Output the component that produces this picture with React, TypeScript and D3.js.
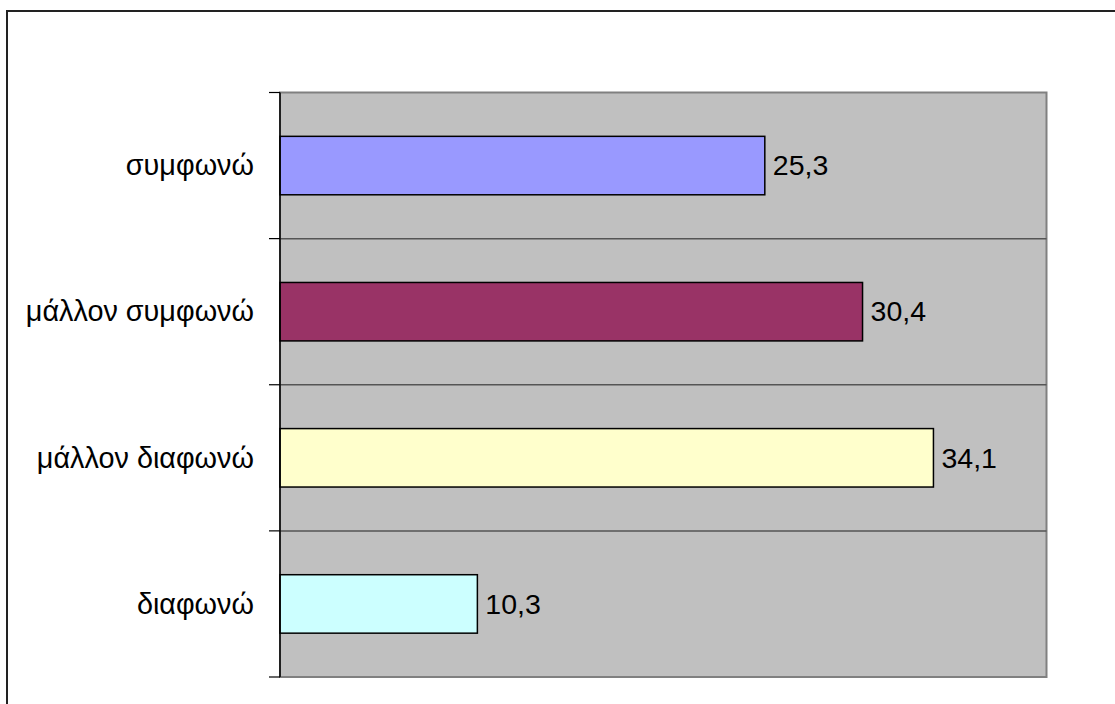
import React from "react";
import * as d3 from "d3";

const categories = ["συμφωνώ", "μάλλον συμφωνώ", "μάλλον διαφωνώ", "διαφωνώ"];
const values = [25.3, 30.4, 34.1, 10.3];
const valueLabels = ["25,3", "30,4", "34,1", "10,3"];
const barColors = ["#9999FF", "#993366", "#FFFFCC", "#CCFFFF"];
const xDomain = [0, 40];

const W = 1115;
const H = 704;
const plot = { left: 280, right: 1046.5, top: 92.5, bottom: 677 };

export default function App() {
  const x = d3.scaleLinear().domain(xDomain).range([plot.left, plot.right]);
  const y = d3
    .scaleBand<string>()
    .domain(categories)
    .range([plot.top, plot.bottom])
    .paddingInner(0.6)
    .paddingOuter(0.3);
  const step = y.step();
  const bandEdges = d3.range(categories.length + 1).map((i) => plot.top + i * step);
  const font = "'Liberation Sans', Arial, sans-serif";

  return (
    <div style={{ position: "absolute", left: 0, top: 0 }}>
      <svg width={W} height={H} style={{ display: "block", background: "#fff" }}>
        <rect x={7} y={11} width={1300} height={900} fill="#fff" stroke="#222" strokeWidth={2} />
        <rect
          x={plot.left}
          y={plot.top}
          width={plot.right - plot.left}
          height={plot.bottom - plot.top}
          fill="#C0C0C0"
          stroke="#808080"
          strokeWidth={2}
        />
        {bandEdges.slice(1, -1).map((yy, i) => (
          <line key={"g" + i} x1={plot.left} x2={plot.right} y1={yy} y2={yy} stroke="#555" strokeWidth={1.5} />
        ))}
        {categories.map((c, i) => (
          <rect
            key={"b" + i}
            x={x(0)}
            y={y(c)!}
            width={x(values[i]) - x(0)}
            height={y.bandwidth()}
            fill={barColors[i]}
            stroke="#000"
            strokeWidth={1.5}
          />
        ))}
        <line x1={plot.left} x2={plot.left} y1={plot.top} y2={plot.bottom} stroke="#000" strokeWidth={1.5} />
        {bandEdges.map((yy, i) => (
          <line key={"t" + i} x1={plot.left - 11} x2={plot.left} y1={yy} y2={yy} stroke="#000" strokeWidth={1.2} />
        ))}
        {categories.map((c, i) => (
          <text
            key={"c" + i}
            x={plot.left - 26}
            y={y(c)! + y.bandwidth() / 2}
            dy="0.34em"
            textAnchor="end"
            fontFamily={font}
            fontSize={28.8}
            fill="#000"
          >
            {c}
          </text>
        ))}
        {categories.map((c, i) => (
          <text
            key={"v" + i}
            x={x(values[i]) + 8}
            y={y(c)! + y.bandwidth() / 2}
            dy="0.34em"
            fontFamily={font}
            fontSize={28.5}
            fill="#000"
          >
            {valueLabels[i]}
          </text>
        ))}
      </svg>
    </div>
  );
}
